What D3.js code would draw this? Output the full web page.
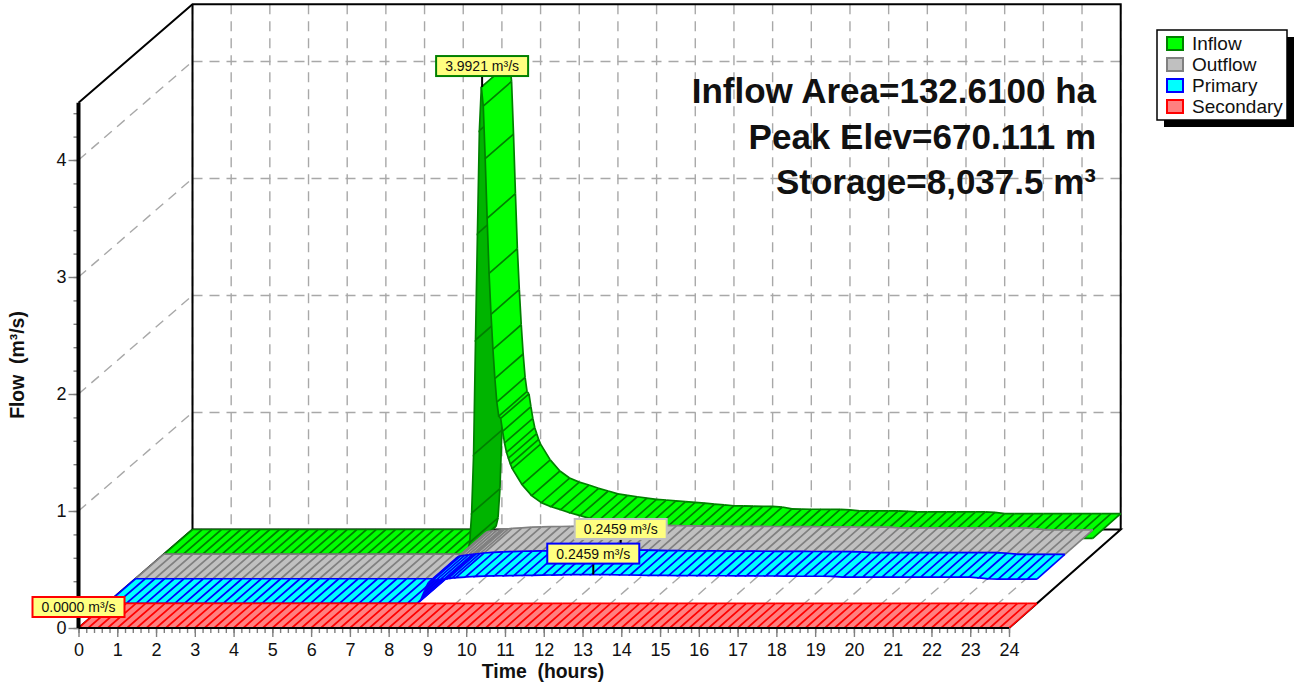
<!DOCTYPE html>
<html>
<head>
<meta charset="utf-8">
<script src="https://cdn.jsdelivr.net/npm/d3@7"></script>
<style>
  html, body { margin: 0; padding: 0; background: #fff; }
  svg { display: block; }
  text { font-family: "Liberation Sans", Arial, sans-serif; fill: #111; }
</style>
</head>
<body>
<div id="graph"></div>
<script>
const hours = [0, 1, 2, 3, 4, 5, 6, 7, 8, 9, 10, 11, 12, 13, 14, 15, 16, 17, 18, 19, 20, 21, 22, 23, 24];
const flowTicks = [0, 1, 2, 3, 4];

const times = [
  0, 0.25, 0.5, 0.75, 1, 1.25, 1.5, 1.75, 2, 2.25, 2.5, 2.75, 3, 3.25, 3.5, 3.75,
  4, 4.25, 4.5, 4.75, 5, 5.25, 5.5, 5.75, 6, 6.25, 6.5, 6.75, 7, 7.25, 7.5, 7.75,
  7.85, 7.9, 7.95, 8, 8.05, 8.1, 8.15, 8.2, 8.25, 8.3, 8.35, 8.4,
  8.45, 8.5, 8.55, 8.6, 8.65, 8.7, 8.75, 8.8, 8.85, 8.9, 8.95, 9,
  9.25, 9.5, 9.75,
  10, 10.25, 10.5, 10.75,
  11, 11.25, 11.5, 11.75,
  12, 12.25, 12.5, 12.75,
  13, 13.25, 13.5, 13.75,
  14, 14.25, 14.5, 14.75,
  15, 15.25, 15.5, 15.75,
  16, 16.25, 16.5, 16.75,
  17, 17.25, 17.5, 17.75,
  18, 18.25, 18.5, 18.75,
  19, 19.25, 19.5, 19.75,
  20, 20.25, 20.5, 20.75,
  21, 21.25, 21.5, 21.75,
  22, 22.25, 22.5, 22.75,
  23, 23.25, 23.5, 23.75,
  24
];

const inflow = [
  0, 0, 0, 0, 0, 0, 0, 0, 0, 0, 0, 0, 0, 0, 0, 0,
  0, 0, 0, 0, 0, 0, 0, 0, 0, 0, 0, 0, 0, 0, 0, 0,
  0.03, 0.1, 0.35, 0.85, 1.83, 2.74, 3.62, 3.9921, 3.83, 3.38, 2.87, 2.4,
  2.05, 1.75, 1.5, 1.3, 1.18, 1.16, 1.05, 0.95, 0.87, 0.82, 0.77, 0.73,
  0.595, 0.5, 0.44,
  0.405, 0.38, 0.352, 0.329,
  0.305, 0.292, 0.28, 0.268,
  0.258, 0.252, 0.245, 0.238,
  0.232, 0.225, 0.217, 0.21,
  0.203, 0.202, 0.2, 0.198,
  0.197, 0.192, 0.177, 0.174,
  0.173, 0.173, 0.172, 0.172,
  0.168, 0.16, 0.16, 0.16,
  0.16, 0.16, 0.156, 0.15,
  0.15, 0.15, 0.15, 0.15,
  0.15, 0.15, 0.15, 0.147,
  0.135, 0.135, 0.135, 0.135,
  0.135, 0.135, 0.135, 0.135,
  0.135, 0.135, 0.135, 0.135,
  0.135
];

const primary = [
  0, 0, 0, 0, 0, 0, 0, 0, 0, 0, 0, 0, 0, 0, 0, 0,
  0, 0, 0, 0, 0, 0, 0, 0, 0, 0, 0, 0, 0, 0, 0, 0,
  0, 0, 0, 0, 0.01, 0.03, 0.07, 0.11, 0.15, 0.18, 0.19, 0.195,
  0.197, 0.2, 0.202, 0.204, 0.206, 0.208, 0.21, 0.212, 0.214, 0.216, 0.218, 0.22,
  0.225, 0.23, 0.2325,
  0.235, 0.236, 0.2375, 0.2385,
  0.24, 0.241, 0.2425, 0.2435,
  0.245, 0.2455, 0.2459, 0.2458,
  0.245, 0.244, 0.2425, 0.241,
  0.24, 0.2395, 0.239, 0.238,
  0.238, 0.237, 0.2365, 0.236,
  0.236, 0.235, 0.235, 0.2345,
  0.234, 0.234, 0.233, 0.233,
  0.232, 0.232, 0.232, 0.23,
  0.224, 0.224, 0.224, 0.224,
  0.224, 0.224, 0.224, 0.224,
  0.224, 0.224, 0.224, 0.224,
  0.224, 0.224, 0.218, 0.21,
  0.208, 0.208, 0.208, 0.208,
  0.208
];

// the pond routes everything through the primary outlet, so outflow equals primary
const outflow = primary;
const secondary = times.map(() => 0);

const seriesNames = ["Inflow", "Outflow", "Primary", "Secondary"];
const seriesValues = [inflow, outflow, primary, secondary];
const seriesFill = ["#00ff00", "#c0c0c0", "#00ffff", "#ff8080"];
const seriesRise = ["#00b400", "#8c8c8c", "#0000e6", "#e06060"];
const seriesLine = ["#008000", "#808080", "#0000ff", "#ff0000"];
const boxLine = ["#008000", "#c0c0c0", "#0000ff", "#ff0000"];
// where a series keeps every step / every 0.1 h step, 0.25 h elsewhere
const fineFrom = [7.8, 8, 8, 0];
const fineTo = [9, 8.4, 8.4, 0];
const midTo = [9, 9, 9, 0];

// peak callouts
const peakTimes = [8.22, 12.53, 12.55, 0];
const peakValues = [3.9921, 0.2459, 0.2459, 0];
const peakLabels = ["3.9921 m³/s", "0.2459 m³/s", "0.2459 m³/s", "0.0000 m³/s"];

const titleLines = ["Inflow Area=132.6100 ha", "Peak Elev=670.111 m", "Storage=8,037.5 m³"];
const titleBase = [103, 148.5, 194];

const width = 1294;
const height = 686;
const rise = 0.02;

// front and back planes of the box, depth runs 0..1 between them
const xFront = d3.scaleLinear().domain([0, 24]).range([78.5, 1009]);
const xBack = d3.scaleLinear().domain([0, 24]).range([192.5, 1120.7]);
const yFront = d3.scaleLinear().domain([0, 4]).range([628, 160]);
const yBack = d3.scaleLinear().domain([0, 4]).range([529.5, 61.5]);
const flowTop = 4.49;

const px = (t, d) => xFront(t) + (xBack(t) - xFront(t)) * d;
const py = (v, d) => yFront(v) + (yBack(v) - yFront(v)) * d;
const pt = (t, v, d) => [px(t, d), py(v, d)];
const path = d3.line();

function keepStep(s, t) {
  let hundredths = Math.round(t * 100);
  if (hundredths % 25 === 0) return true;
  if (t >= fineFrom[s] && t <= fineTo[s]) return true;
  return t > fineTo[s] && t <= midTo[s] && hundredths % 10 === 0;
}

let svg = d3.select('#graph')
  .append('svg')
  .attr('width', width)
  .attr('height', height);

// back wall and floor
let grid = svg.append('g')
  .attr('fill', 'none')
  .attr('stroke', '#a8a8a8')
  .attr('stroke-width', 1.4)
  .attr('stroke-dasharray', '10 7');

hours.forEach(h => {
  grid.append('path').attr('d', path([pt(h, flowTop, 1), pt(h, 0, 1)]));
  grid.append('path').attr('d', path([pt(h, 0, 0), pt(h, 0, 1)]));
});
flowTicks.slice(1).forEach(v => {
  grid.append('path').attr('d', path([pt(0, v, 1), pt(24, v, 1)]));
  grid.append('path').attr('d', path([pt(0, v, 0), pt(0, v, 1)]));
});

let frame = svg.append('g').attr('fill', 'none').attr('stroke', '#000').attr('stroke-width', 2);
frame.append('path').attr('d', path([pt(0, flowTop, 0), pt(0, flowTop, 1), pt(24, flowTop, 1), pt(24, 0, 1)]));
frame.append('path').attr('d', path([pt(0, flowTop, 1), pt(0, 0, 1), pt(24, 0, 1), pt(24, 0, 0)]));
frame.append('path').attr('d', path([pt(0, 0, 0), pt(0, 0, 1)]));

// ribbons, back one first, each painted left to right
let ribbons = svg.append('g').attr('class', 'ribbons');
[0, 1, 2, 3].forEach(s => {
  let nearD = (3 - s) * 0.25;
  let farD = nearD + 0.25;
  let points = d3.zip(times, seriesValues[s]).filter(([t]) => keepStep(s, t));
  let steps = d3.pairs(points);
  let ribbon = ribbons.append('g').attr('class', 'ribbon');

  let step = ribbon.selectAll('g').data(steps).enter().append('g');
  step.append('path')
    .attr('fill', ([a, b]) => b[1] - a[1] > rise ? seriesRise[s] : seriesFill[s])
    .attr('stroke', 'none')
    .attr('d', ([a, b]) => path([
      pt(a[0], a[1], nearD), pt(b[0], b[1], nearD), pt(b[0], b[1], farD), pt(a[0], a[1], farD)
    ]) + 'Z');
  step.append('path')
    .attr('fill', 'none')
    .attr('stroke', seriesLine[s])
    .attr('stroke-width', 1.7)
    .attr('d', ([a, b]) => path([
      pt(a[0], a[1], farD), pt(a[0], a[1], nearD), pt(b[0], b[1], nearD)
    ]) + path([pt(a[0], a[1], farD), pt(b[0], b[1], farD)]));

  let last = points[points.length - 1];
  ribbon.append('path')
    .attr('fill', 'none')
    .attr('stroke', seriesLine[s])
    .attr('stroke-width', 1.7)
    .attr('d', path([pt(last[0], last[1], nearD), pt(last[0], last[1], farD)]));
});

// axes
let axis = svg.append('g').attr('class', 'axis');

let xMinor = d3.axisBottom(xFront)
  .tickValues(d3.range(0, 24.01, 0.2))
  .tickSize(5)
  .tickFormat('');
let xMajor = d3.axisBottom(xFront)
  .tickValues(hours)
  .tickFormat(d3.format('d'))
  .tickSize(9)
  .tickPadding(6);
let yMinor = d3.axisLeft(yFront)
  .tickValues(d3.range(0, 4.41, 0.2))
  .tickSize(5)
  .tickFormat('');
let yMajor = d3.axisLeft(yFront)
  .tickValues(flowTicks)
  .tickFormat(d3.format('d'))
  .tickSize(10)
  .tickPadding(2);

[xMinor, xMajor].forEach(a => {
  axis.append('g').attr('transform', `translate(0, ${yFront(0)})`).call(a);
});
[yMinor, yMajor].forEach(a => {
  axis.append('g').attr('transform', `translate(${xFront(0)}, 0)`).call(a);
});
axis.selectAll('.domain').remove();
axis.selectAll('.tick line').attr('stroke', '#808080').attr('stroke-width', 1.4);
axis.selectAll('.tick text')
  .style('font-family', '"Liberation Sans", Arial, sans-serif')
  .style('font-size', '18px')
  .attr('fill', '#111');

axis.append('path')
  .attr('d', path([pt(0, 0, 0), pt(24, 0, 0)]))
  .attr('stroke', '#000')
  .attr('stroke-width', 2);
axis.append('path')
  .attr('d', path([pt(0, 0, 0), pt(0, flowTop, 0)]))
  .attr('stroke', '#000')
  .attr('stroke-width', 4);

axis.append('text')
  .attr('x', 543)
  .attr('y', 678)
  .attr('text-anchor', 'middle')
  .style('font-size', '19.4px')
  .style('font-weight', 'bold')
  .style('white-space', 'pre')
  .text('Time  (hours)');
axis.append('text')
  .attr('transform', 'translate(24, 365) rotate(-90)')
  .attr('text-anchor', 'middle')
  .style('font-size', '19.4px')
  .style('font-weight', 'bold')
  .style('white-space', 'pre')
  .text('Flow  (m³/s)');

// big text block
let title = svg.append('g').attr('class', 'title');
titleLines.forEach((line, i) => {
  title.append('text')
    .attr('x', 1096)
    .attr('y', titleBase[i])
    .attr('text-anchor', 'end')
    .style('font-size', '35px')
    .style('font-weight', 'bold')
    .text(line);
});

// callouts
let callouts = svg.append('g').attr('class', 'callouts');
const boxW = 92;
const boxH = 20;
[3, 0, 1, 2].forEach(s => {
  let d = (3 - s) * 0.25;
  let [x, y] = pt(peakTimes[s], peakValues[s], d);
  let top = y - 11 - boxH;
  callouts.append('path')
    .attr('d', path([[x, y], [x, top + boxH]]))
    .attr('stroke', '#000')
    .attr('stroke-width', 2);
  callouts.append('rect')
    .attr('x', x - boxW / 2)
    .attr('y', top)
    .attr('width', boxW)
    .attr('height', boxH)
    .attr('fill', '#ffff80')
    .attr('stroke', boxLine[s])
    .attr('stroke-width', 2);
  callouts.append('text')
    .attr('x', x)
    .attr('y', top + 15)
    .attr('text-anchor', 'middle')
    .style('font-size', '14px')
    .text(peakLabels[s]);
});

// legend
let legend = svg.append('g').attr('class', 'legend').attr('transform', 'translate(1157, 30)');
legend.append('rect')
  .attr('x', 7).attr('y', 7)
  .attr('width', 130).attr('height', 90)
  .attr('fill', '#000');
legend.append('rect')
  .attr('width', 130).attr('height', 90)
  .attr('fill', '#fff')
  .attr('stroke', '#000')
  .attr('stroke-width', 1.5);
seriesNames.forEach((name, i) => {
  legend.append('rect')
    .attr('x', 10)
    .attr('y', 7 + i * 21)
    .attr('width', 16)
    .attr('height', 13)
    .attr('fill', seriesFill[i])
    .attr('stroke', seriesLine[i])
    .attr('stroke-width', 2);
  legend.append('text')
    .attr('x', 35)
    .attr('y', 19.5 + i * 21)
    .style('font-size', '19px')
    .text(name);
});
</script>
</body>
</html>
